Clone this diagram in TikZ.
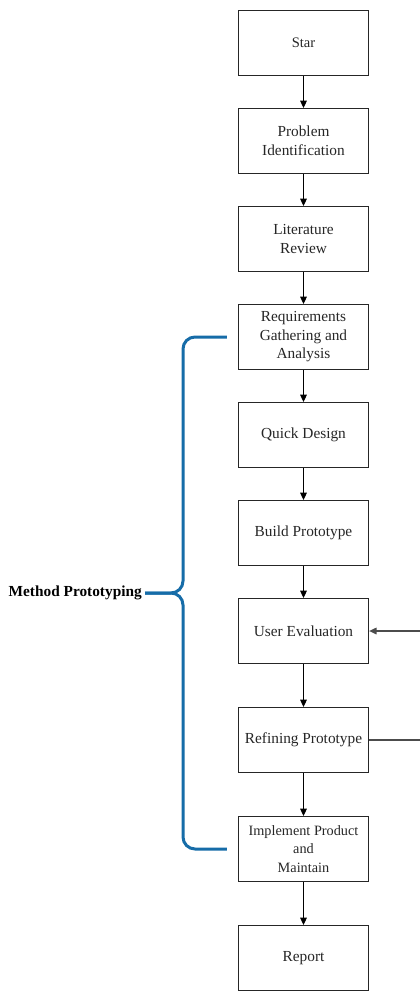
\documentclass[tikz,border=0pt]{standalone}
\usepackage{fontspec}
\setmainfont{Liberation Serif}
\usetikzlibrary{arrows.meta}
\usetikzlibrary{positioning}

\definecolor{braceblue}{RGB}{22,108,168}

\begin{document}
\begin{tikzpicture}[
    x=0.75pt, y=-0.75pt, % one unit = one pixel, y going down
    node distance=24pt,
    box/.style={draw=black!85, line width=1pt, minimum width=97.5pt, minimum height=48.5pt,
        align=center, text=black!85, inner sep=1pt, font=\fontsize{11.5}{13.9}\selectfont}, % Style for the steps
    flow/.style={-{Triangle[length=5.5pt, width=5pt]}, line width=0.8pt}, % Style for the arrows
    brace/.style={braceblue, line width=2.25pt, rounded corners=9pt} % Style for the blue bracket
]

% Picture frame
\clip (0,0) rectangle (420,992);

% Steps
\node[box, font=\fontsize{10.9}{13.9}\selectfont] (star) at (303.5,43) {Star};
\node[box, below=of star] (problem) {Problem\\Identification};
\node[box, below=of problem] (review) {Literature\\Review};
\node[box, below=of review] (req) {Requirements\\Gathering and\\Analysis};
\node[box, below=of req] (design) {Quick Design};
\node[box, below=of design] (build) {Build Prototype};
\node[box, below=of build] (user) {User Evaluation};
\node[box, below=32.25pt of user] (refine) {Refining Prototype};
\node[box, below=32.25pt of refine, font=\fontsize{10.7}{14}\selectfont] (impl) {Implement Product\\and\\Maintain};
\node[box, below=32.25pt of impl] (report) {Report};

% Arrows between steps
\draw[flow] (star) -- (problem);
\draw[flow] (problem) -- (review);
\draw[flow] (review) -- (req);
\draw[flow] (req) -- (design);
\draw[flow] (design) -- (build);
\draw[flow] (build) -- (user);
\draw[flow] (user) -- (refine);
\draw[flow] (refine) -- (impl);
\draw[flow] (impl) -- (report);

% Loop back from refining to evaluation
\draw[flow, black!70] (refine.east) -- ++(60,0) |- (user.east);

% Bracket and its label
\node[anchor=east, inner sep=2.25pt, font=\bfseries\fontsize{11.5}{13.9}\selectfont] (method) at (145,593) {Method Prototyping};
\coordinate (top) at ([xshift=-8.25pt]req.west);
\coordinate (bottom) at ([xshift=-8.25pt]impl.west);
\draw[brace] (top) -| (183,593) -- (method.east);
\draw[brace] (bottom) -| (183,593) -- (method.east);

\end{tikzpicture}
\end{document}
